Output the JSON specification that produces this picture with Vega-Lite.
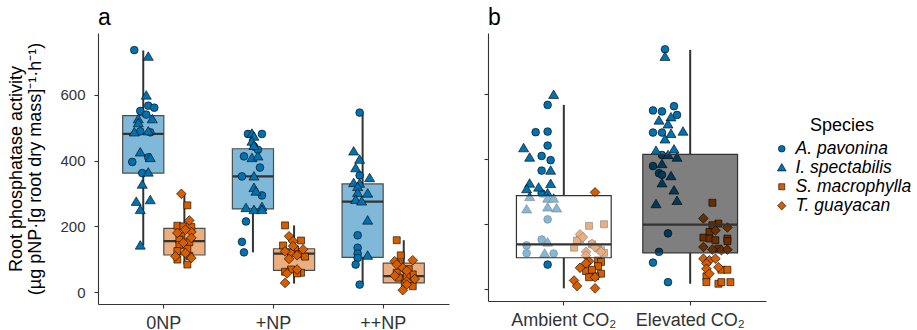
{
  "$schema": "https://vega.github.io/schema/vega-lite/v6.json",
  "padding": {"left": 7, "top": 7, "right": 5, "bottom": 5},
  "config": {
    "font": "Liberation Sans",
    "view": {"stroke": null},
    "axis": {"grid": false, "domainColor": "#333333", "tickColor": "#333333", "labelColor": "#333333", "titleColor": "#000000", "titleFontWeight": "normal", "tickSize": 4, "domainWidth": 1.1, "tickWidth": 1.1, "labelFont": "Liberation Sans", "titleFont": "Liberation Sans"},
    "title": {"font": "Liberation Sans", "fontWeight": "normal", "fontSize": 23, "anchor": "start", "frame": "group", "color": "#000000"},
    "legend": {"titleFontWeight": "normal", "titleFontSize": 18, "titleColor": "#000000", "labelFontSize": 17.5, "labelFontStyle": "italic", "labelColor": "#000000", "symbolSize": 45, "symbolStrokeColor": "#000000", "symbolStrokeWidth": 0.6, "titleAnchor": "middle", "rowPadding": 0, "labelOffset": 5}
  },
  "datasets": {
    "boxA": [
      {"N": "0NP", "type": "N-fixer", "lower": 142, "q1": 362, "median": 481, "q3": 537, "upper": 735},
      {"N": "0NP", "type": "Non-fixer", "lower": 84, "q1": 113, "median": 155, "q3": 194, "upper": 299},
      {"N": "+NP", "type": "N-fixer", "lower": 121, "q1": 253, "median": 352, "q3": 436, "upper": 484},
      {"N": "+NP", "type": "Non-fixer", "lower": 26, "q1": 66, "median": 117, "q3": 132, "upper": 203},
      {"N": "++NP", "type": "N-fixer", "lower": 23, "q1": 106, "median": 275, "q3": 329, "upper": 546},
      {"N": "++NP", "type": "Non-fixer", "lower": 6, "q1": 28, "median": 49, "q3": 88, "upper": 158}
    ],
    "boxB": [
      {"CO2": "Ambient CO₂", "lower": 3, "q1": 97, "median": 138, "q3": 288, "upper": 567},
      {"CO2": "Elevated CO₂", "lower": 17, "q1": 112, "median": 199, "q3": 415, "upper": 736}
    ],
    "ptsA": [
      {"N": "0NP", "species": "A. pavonina", "value": 736, "plant": 2},
      {"N": "0NP", "species": "A. pavonina", "value": 567, "plant": 9},
      {"N": "0NP", "species": "A. pavonina", "value": 561, "plant": 12},
      {"N": "0NP", "species": "A. pavonina", "value": 551, "plant": 5},
      {"N": "0NP", "species": "A. pavonina", "value": 540, "plant": 8},
      {"N": "0NP", "species": "A. pavonina", "value": 489, "plant": 5},
      {"N": "0NP", "species": "A. pavonina", "value": 486, "plant": 10},
      {"N": "0NP", "species": "A. pavonina", "value": 410, "plant": 9},
      {"N": "0NP", "species": "A. pavonina", "value": 396, "plant": 1},
      {"N": "0NP", "species": "A. pavonina", "value": 362, "plant": 6},
      {"N": "0NP", "species": "I. spectabilis", "value": 716, "plant": 9},
      {"N": "0NP", "species": "I. spectabilis", "value": 598, "plant": 8},
      {"N": "0NP", "species": "I. spectabilis", "value": 526, "plant": 4},
      {"N": "0NP", "species": "I. spectabilis", "value": 526, "plant": 11},
      {"N": "0NP", "species": "I. spectabilis", "value": 514, "plant": 4},
      {"N": "0NP", "species": "I. spectabilis", "value": 486, "plant": 2},
      {"N": "0NP", "species": "I. spectabilis", "value": 489, "plant": 9},
      {"N": "0NP", "species": "I. spectabilis", "value": 425, "plant": 5},
      {"N": "0NP", "species": "I. spectabilis", "value": 408, "plant": 10},
      {"N": "0NP", "species": "I. spectabilis", "value": 364, "plant": 9},
      {"N": "0NP", "species": "I. spectabilis", "value": 327, "plant": 6},
      {"N": "0NP", "species": "I. spectabilis", "value": 280, "plant": 10},
      {"N": "0NP", "species": "I. spectabilis", "value": 275, "plant": 3},
      {"N": "0NP", "species": "I. spectabilis", "value": 250, "plant": 5},
      {"N": "0NP", "species": "I. spectabilis", "value": 142, "plant": 5},
      {"N": "0NP", "species": "S. macrophylla", "value": 264, "plant": 8},
      {"N": "0NP", "species": "S. macrophylla", "value": 202, "plant": 3},
      {"N": "0NP", "species": "S. macrophylla", "value": 200, "plant": 6},
      {"N": "0NP", "species": "S. macrophylla", "value": 198, "plant": 10},
      {"N": "0NP", "species": "S. macrophylla", "value": 170, "plant": 5},
      {"N": "0NP", "species": "S. macrophylla", "value": 160, "plant": 4},
      {"N": "0NP", "species": "S. macrophylla", "value": 152, "plant": 9},
      {"N": "0NP", "species": "S. macrophylla", "value": 143, "plant": 4},
      {"N": "0NP", "species": "S. macrophylla", "value": 132, "plant": 8},
      {"N": "0NP", "species": "S. macrophylla", "value": 125, "plant": 3},
      {"N": "0NP", "species": "S. macrophylla", "value": 110, "plant": 9},
      {"N": "0NP", "species": "S. macrophylla", "value": 99, "plant": 3},
      {"N": "0NP", "species": "S. macrophylla", "value": 84, "plant": 8},
      {"N": "0NP", "species": "T. guayacan", "value": 299, "plant": 5},
      {"N": "0NP", "species": "T. guayacan", "value": 218, "plant": 9},
      {"N": "0NP", "species": "T. guayacan", "value": 183, "plant": 10},
      {"N": "0NP", "species": "T. guayacan", "value": 180, "plant": 3},
      {"N": "0NP", "species": "T. guayacan", "value": 190, "plant": 7},
      {"N": "0NP", "species": "T. guayacan", "value": 165, "plant": 10},
      {"N": "0NP", "species": "T. guayacan", "value": 119, "plant": 7},
      {"N": "0NP", "species": "T. guayacan", "value": 109, "plant": 2},
      {"N": "0NP", "species": "T. guayacan", "value": 104, "plant": 10},
      {"N": "0NP", "species": "T. guayacan", "value": 150, "plant": 6},
      {"N": "+NP", "species": "A. pavonina", "value": 481, "plant": 4},
      {"N": "+NP", "species": "A. pavonina", "value": 481, "plant": 11},
      {"N": "+NP", "species": "A. pavonina", "value": 443, "plant": 7},
      {"N": "+NP", "species": "A. pavonina", "value": 433, "plant": 9},
      {"N": "+NP", "species": "A. pavonina", "value": 413, "plant": 2},
      {"N": "+NP", "species": "A. pavonina", "value": 379, "plant": 10},
      {"N": "+NP", "species": "A. pavonina", "value": 352, "plant": 1},
      {"N": "+NP", "species": "A. pavonina", "value": 294, "plant": 11},
      {"N": "+NP", "species": "A. pavonina", "value": 215, "plant": 3},
      {"N": "+NP", "species": "A. pavonina", "value": 153, "plant": 1},
      {"N": "+NP", "species": "A. pavonina", "value": 121, "plant": 2},
      {"N": "+NP", "species": "I. spectabilis", "value": 482, "plant": 6},
      {"N": "+NP", "species": "I. spectabilis", "value": 473, "plant": 7},
      {"N": "+NP", "species": "I. spectabilis", "value": 458, "plant": 6},
      {"N": "+NP", "species": "I. spectabilis", "value": 445, "plant": 7},
      {"N": "+NP", "species": "I. spectabilis", "value": 408, "plant": 6},
      {"N": "+NP", "species": "I. spectabilis", "value": 413, "plant": 9},
      {"N": "+NP", "species": "I. spectabilis", "value": 352, "plant": 7},
      {"N": "+NP", "species": "I. spectabilis", "value": 317, "plant": 7},
      {"N": "+NP", "species": "I. spectabilis", "value": 306, "plant": 8},
      {"N": "+NP", "species": "I. spectabilis", "value": 259, "plant": 11},
      {"N": "+NP", "species": "I. spectabilis", "value": 256, "plant": 3},
      {"N": "+NP", "species": "I. spectabilis", "value": 250, "plant": 7},
      {"N": "+NP", "species": "I. spectabilis", "value": 250, "plant": 11},
      {"N": "+NP", "species": "S. macrophylla", "value": 203, "plant": 2},
      {"N": "+NP", "species": "S. macrophylla", "value": 157, "plant": 10},
      {"N": "+NP", "species": "S. macrophylla", "value": 142, "plant": 1},
      {"N": "+NP", "species": "S. macrophylla", "value": 130, "plant": 7},
      {"N": "+NP", "species": "S. macrophylla", "value": 120, "plant": 5},
      {"N": "+NP", "species": "S. macrophylla", "value": 115, "plant": 9},
      {"N": "+NP", "species": "S. macrophylla", "value": 108, "plant": 12},
      {"N": "+NP", "species": "S. macrophylla", "value": 69, "plant": 5},
      {"N": "+NP", "species": "S. macrophylla", "value": 59, "plant": 10},
      {"N": "+NP", "species": "S. macrophylla", "value": 57, "plant": 8},
      {"N": "+NP", "species": "S. macrophylla", "value": 62, "plant": 2},
      {"N": "+NP", "species": "T. guayacan", "value": 170, "plant": 4},
      {"N": "+NP", "species": "T. guayacan", "value": 155, "plant": 6},
      {"N": "+NP", "species": "T. guayacan", "value": 140, "plant": 6},
      {"N": "+NP", "species": "T. guayacan", "value": 130, "plant": 11},
      {"N": "+NP", "species": "T. guayacan", "value": 124, "plant": 2},
      {"N": "+NP", "species": "T. guayacan", "value": 112, "plant": 8},
      {"N": "+NP", "species": "T. guayacan", "value": 101, "plant": 4},
      {"N": "+NP", "species": "T. guayacan", "value": 69, "plant": 8},
      {"N": "+NP", "species": "T. guayacan", "value": 57, "plant": 3},
      {"N": "+NP", "species": "T. guayacan", "value": 28, "plant": 2},
      {"N": "++NP", "species": "A. pavonina", "value": 546, "plant": 5},
      {"N": "++NP", "species": "A. pavonina", "value": 355, "plant": 5},
      {"N": "++NP", "species": "A. pavonina", "value": 173, "plant": 4},
      {"N": "++NP", "species": "A. pavonina", "value": 135, "plant": 4},
      {"N": "++NP", "species": "A. pavonina", "value": 117, "plant": 4},
      {"N": "++NP", "species": "A. pavonina", "value": 104, "plant": 4},
      {"N": "++NP", "species": "A. pavonina", "value": 84, "plant": 3},
      {"N": "++NP", "species": "A. pavonina", "value": 23, "plant": 5},
      {"N": "++NP", "species": "I. spectabilis", "value": 428, "plant": 2},
      {"N": "++NP", "species": "I. spectabilis", "value": 403, "plant": 5},
      {"N": "++NP", "species": "I. spectabilis", "value": 377, "plant": 3},
      {"N": "++NP", "species": "I. spectabilis", "value": 347, "plant": 10},
      {"N": "++NP", "species": "I. spectabilis", "value": 332, "plant": 2},
      {"N": "++NP", "species": "I. spectabilis", "value": 330, "plant": 5},
      {"N": "++NP", "species": "I. spectabilis", "value": 320, "plant": 4},
      {"N": "++NP", "species": "I. spectabilis", "value": 302, "plant": 4},
      {"N": "++NP", "species": "I. spectabilis", "value": 300, "plant": 9},
      {"N": "++NP", "species": "I. spectabilis", "value": 281, "plant": 3},
      {"N": "++NP", "species": "I. spectabilis", "value": 276, "plant": 6},
      {"N": "++NP", "species": "I. spectabilis", "value": 218, "plant": 9},
      {"N": "++NP", "species": "I. spectabilis", "value": 111, "plant": 9},
      {"N": "++NP", "species": "S. macrophylla", "value": 158, "plant": 3},
      {"N": "++NP", "species": "S. macrophylla", "value": 112, "plant": 5},
      {"N": "++NP", "species": "S. macrophylla", "value": 88, "plant": 4},
      {"N": "++NP", "species": "S. macrophylla", "value": 70, "plant": 9},
      {"N": "++NP", "species": "S. macrophylla", "value": 59, "plant": 3},
      {"N": "++NP", "species": "S. macrophylla", "value": 54, "plant": 11},
      {"N": "++NP", "species": "S. macrophylla", "value": 48, "plant": 8},
      {"N": "++NP", "species": "S. macrophylla", "value": 44, "plant": 4},
      {"N": "++NP", "species": "S. macrophylla", "value": 26, "plant": 7},
      {"N": "++NP", "species": "S. macrophylla", "value": 18, "plant": 11},
      {"N": "++NP", "species": "T. guayacan", "value": 97, "plant": 11},
      {"N": "++NP", "species": "T. guayacan", "value": 94, "plant": 2},
      {"N": "++NP", "species": "T. guayacan", "value": 84, "plant": 3},
      {"N": "++NP", "species": "T. guayacan", "value": 74, "plant": 6},
      {"N": "++NP", "species": "T. guayacan", "value": 65, "plant": 8},
      {"N": "++NP", "species": "T. guayacan", "value": 50, "plant": 2},
      {"N": "++NP", "species": "T. guayacan", "value": 33, "plant": 8},
      {"N": "++NP", "species": "T. guayacan", "value": 23, "plant": 8},
      {"N": "++NP", "species": "T. guayacan", "value": 6, "plant": 6},
      {"N": "++NP", "species": "T. guayacan", "value": 40, "plant": 12}
    ],
    "ptsB": [
      {"CO2": "Ambient CO₂", "species": "A. pavonina", "value": 567, "plant": 9},
      {"CO2": "Ambient CO₂", "species": "A. pavonina", "value": 485, "plant": 9},
      {"CO2": "Ambient CO₂", "species": "A. pavonina", "value": 483, "plant": 5},
      {"CO2": "Ambient CO₂", "species": "A. pavonina", "value": 442, "plant": 9},
      {"CO2": "Ambient CO₂", "species": "A. pavonina", "value": 410, "plant": 7},
      {"CO2": "Ambient CO₂", "species": "A. pavonina", "value": 397, "plant": 10},
      {"CO2": "Ambient CO₂", "species": "A. pavonina", "value": 365, "plant": 7},
      {"CO2": "Ambient CO₂", "species": "A. pavonina", "value": 295, "plant": 7},
      {"CO2": "Ambient CO₂", "species": "A. pavonina", "value": 215, "plant": 9},
      {"CO2": "Ambient CO₂", "species": "A. pavonina", "value": 153, "plant": 7},
      {"CO2": "Ambient CO₂", "species": "A. pavonina", "value": 135, "plant": 2},
      {"CO2": "Ambient CO₂", "species": "A. pavonina", "value": 111, "plant": 2},
      {"CO2": "Ambient CO₂", "species": "A. pavonina", "value": 110, "plant": 11},
      {"CO2": "Ambient CO₂", "species": "A. pavonina", "value": 76, "plant": 9},
      {"CO2": "Ambient CO₂", "species": "I. spectabilis", "value": 598, "plant": 11},
      {"CO2": "Ambient CO₂", "species": "I. spectabilis", "value": 434, "plant": 1},
      {"CO2": "Ambient CO₂", "species": "I. spectabilis", "value": 405, "plant": 3},
      {"CO2": "Ambient CO₂", "species": "I. spectabilis", "value": 365, "plant": 10},
      {"CO2": "Ambient CO₂", "species": "I. spectabilis", "value": 325, "plant": 3},
      {"CO2": "Ambient CO₂", "species": "I. spectabilis", "value": 308, "plant": 2},
      {"CO2": "Ambient CO₂", "species": "I. spectabilis", "value": 313, "plant": 6},
      {"CO2": "Ambient CO₂", "species": "I. spectabilis", "value": 324, "plant": 10},
      {"CO2": "Ambient CO₂", "species": "I. spectabilis", "value": 295, "plant": 9},
      {"CO2": "Ambient CO₂", "species": "I. spectabilis", "value": 284, "plant": 3},
      {"CO2": "Ambient CO₂", "species": "I. spectabilis", "value": 279, "plant": 9},
      {"CO2": "Ambient CO₂", "species": "I. spectabilis", "value": 279, "plant": 11},
      {"CO2": "Ambient CO₂", "species": "I. spectabilis", "value": 246, "plant": 2},
      {"CO2": "Ambient CO₂", "species": "I. spectabilis", "value": 252, "plant": 9},
      {"CO2": "Ambient CO₂", "species": "I. spectabilis", "value": 249, "plant": 12},
      {"CO2": "Ambient CO₂", "species": "I. spectabilis", "value": 144, "plant": 9},
      {"CO2": "Ambient CO₂", "species": "I. spectabilis", "value": 110, "plant": 8},
      {"CO2": "Ambient CO₂", "species": "S. macrophylla", "value": 200, "plant": 12},
      {"CO2": "Ambient CO₂", "species": "S. macrophylla", "value": 195, "plant": 7},
      {"CO2": "Ambient CO₂", "species": "S. macrophylla", "value": 154, "plant": 4},
      {"CO2": "Ambient CO₂", "species": "S. macrophylla", "value": 150, "plant": 3},
      {"CO2": "Ambient CO₂", "species": "S. macrophylla", "value": 138, "plant": 8},
      {"CO2": "Ambient CO₂", "species": "S. macrophylla", "value": 128, "plant": 2},
      {"CO2": "Ambient CO₂", "species": "S. macrophylla", "value": 126, "plant": 10},
      {"CO2": "Ambient CO₂", "species": "S. macrophylla", "value": 120, "plant": 11},
      {"CO2": "Ambient CO₂", "species": "S. macrophylla", "value": 112, "plant": 12},
      {"CO2": "Ambient CO₂", "species": "S. macrophylla", "value": 89, "plant": 10},
      {"CO2": "Ambient CO₂", "species": "S. macrophylla", "value": 84, "plant": 11},
      {"CO2": "Ambient CO₂", "species": "S. macrophylla", "value": 71, "plant": 10},
      {"CO2": "Ambient CO₂", "species": "S. macrophylla", "value": 56, "plant": 6},
      {"CO2": "Ambient CO₂", "species": "S. macrophylla", "value": 48, "plant": 11},
      {"CO2": "Ambient CO₂", "species": "S. macrophylla", "value": 40, "plant": 9},
      {"CO2": "Ambient CO₂", "species": "S. macrophylla", "value": 37, "plant": 7},
      {"CO2": "Ambient CO₂", "species": "S. macrophylla", "value": 60, "plant": 8},
      {"CO2": "Ambient CO₂", "species": "T. guayacan", "value": 298, "plant": 9},
      {"CO2": "Ambient CO₂", "species": "T. guayacan", "value": 169, "plant": 4},
      {"CO2": "Ambient CO₂", "species": "T. guayacan", "value": 160, "plant": 5},
      {"CO2": "Ambient CO₂", "species": "T. guayacan", "value": 140, "plant": 8},
      {"CO2": "Ambient CO₂", "species": "T. guayacan", "value": 130, "plant": 9},
      {"CO2": "Ambient CO₂", "species": "T. guayacan", "value": 115, "plant": 6},
      {"CO2": "Ambient CO₂", "species": "T. guayacan", "value": 115, "plant": 11},
      {"CO2": "Ambient CO₂", "species": "T. guayacan", "value": 104, "plant": 6},
      {"CO2": "Ambient CO₂", "species": "T. guayacan", "value": 86, "plant": 7},
      {"CO2": "Ambient CO₂", "species": "T. guayacan", "value": 80, "plant": 6},
      {"CO2": "Ambient CO₂", "species": "T. guayacan", "value": 66, "plant": 4},
      {"CO2": "Ambient CO₂", "species": "T. guayacan", "value": 27, "plant": 2},
      {"CO2": "Ambient CO₂", "species": "T. guayacan", "value": 10, "plant": 3},
      {"CO2": "Ambient CO₂", "species": "T. guayacan", "value": 3, "plant": 9},
      {"CO2": "Ambient CO₂", "species": "T. guayacan", "value": 37, "plant": 9},
      {"CO2": "Elevated CO₂", "species": "A. pavonina", "value": 738, "plant": 6},
      {"CO2": "Elevated CO₂", "species": "A. pavonina", "value": 563, "plant": 9},
      {"CO2": "Elevated CO₂", "species": "A. pavonina", "value": 550, "plant": 2},
      {"CO2": "Elevated CO₂", "species": "A. pavonina", "value": 547, "plant": 5},
      {"CO2": "Elevated CO₂", "species": "A. pavonina", "value": 536, "plant": 10},
      {"CO2": "Elevated CO₂", "species": "A. pavonina", "value": 482, "plant": 2},
      {"CO2": "Elevated CO₂", "species": "A. pavonina", "value": 482, "plant": 5},
      {"CO2": "Elevated CO₂", "species": "A. pavonina", "value": 413, "plant": 5},
      {"CO2": "Elevated CO₂", "species": "A. pavonina", "value": 379, "plant": 2},
      {"CO2": "Elevated CO₂", "species": "A. pavonina", "value": 357, "plant": 4},
      {"CO2": "Elevated CO₂", "species": "A. pavonina", "value": 352, "plant": 5},
      {"CO2": "Elevated CO₂", "species": "A. pavonina", "value": 172, "plant": 7},
      {"CO2": "Elevated CO₂", "species": "A. pavonina", "value": 115, "plant": 4},
      {"CO2": "Elevated CO₂", "species": "A. pavonina", "value": 82, "plant": 2},
      {"CO2": "Elevated CO₂", "species": "A. pavonina", "value": 22, "plant": 7},
      {"CO2": "Elevated CO₂", "species": "I. spectabilis", "value": 715, "plant": 6},
      {"CO2": "Elevated CO₂", "species": "I. spectabilis", "value": 529, "plant": 8},
      {"CO2": "Elevated CO₂", "species": "I. spectabilis", "value": 519, "plant": 4},
      {"CO2": "Elevated CO₂", "species": "I. spectabilis", "value": 507, "plant": 7},
      {"CO2": "Elevated CO₂", "species": "I. spectabilis", "value": 478, "plant": 8},
      {"CO2": "Elevated CO₂", "species": "I. spectabilis", "value": 485, "plant": 12},
      {"CO2": "Elevated CO₂", "species": "I. spectabilis", "value": 461, "plant": 6},
      {"CO2": "Elevated CO₂", "species": "I. spectabilis", "value": 426, "plant": 3},
      {"CO2": "Elevated CO₂", "species": "I. spectabilis", "value": 430, "plant": 9},
      {"CO2": "Elevated CO₂", "species": "I. spectabilis", "value": 413, "plant": 7},
      {"CO2": "Elevated CO₂", "species": "I. spectabilis", "value": 405, "plant": 10},
      {"CO2": "Elevated CO₂", "species": "I. spectabilis", "value": 385, "plant": 5},
      {"CO2": "Elevated CO₂", "species": "I. spectabilis", "value": 348, "plant": 8},
      {"CO2": "Elevated CO₂", "species": "I. spectabilis", "value": 326, "plant": 5},
      {"CO2": "Elevated CO₂", "species": "I. spectabilis", "value": 304, "plant": 9},
      {"CO2": "Elevated CO₂", "species": "I. spectabilis", "value": 272, "plant": 10},
      {"CO2": "Elevated CO₂", "species": "I. spectabilis", "value": 262, "plant": 3},
      {"CO2": "Elevated CO₂", "species": "S. macrophylla", "value": 266, "plant": 6},
      {"CO2": "Elevated CO₂", "species": "S. macrophylla", "value": 202, "plant": 8},
      {"CO2": "Elevated CO₂", "species": "S. macrophylla", "value": 197, "plant": 6},
      {"CO2": "Elevated CO₂", "species": "S. macrophylla", "value": 176, "plant": 5},
      {"CO2": "Elevated CO₂", "species": "S. macrophylla", "value": 159, "plant": 3},
      {"CO2": "Elevated CO₂", "species": "S. macrophylla", "value": 156, "plant": 5},
      {"CO2": "Elevated CO₂", "species": "S. macrophylla", "value": 151, "plant": 7},
      {"CO2": "Elevated CO₂", "species": "S. macrophylla", "value": 156, "plant": 11},
      {"CO2": "Elevated CO₂", "species": "S. macrophylla", "value": 148, "plant": 11},
      {"CO2": "Elevated CO₂", "species": "S. macrophylla", "value": 125, "plant": 8},
      {"CO2": "Elevated CO₂", "species": "S. macrophylla", "value": 60, "plant": 9},
      {"CO2": "Elevated CO₂", "species": "S. macrophylla", "value": 60, "plant": 11},
      {"CO2": "Elevated CO₂", "species": "S. macrophylla", "value": 40, "plant": 4},
      {"CO2": "Elevated CO₂", "species": "S. macrophylla", "value": 22, "plant": 4},
      {"CO2": "Elevated CO₂", "species": "S. macrophylla", "value": 17, "plant": 8},
      {"CO2": "Elevated CO₂", "species": "S. macrophylla", "value": 22, "plant": 9},
      {"CO2": "Elevated CO₂", "species": "S. macrophylla", "value": 22, "plant": 12},
      {"CO2": "Elevated CO₂", "species": "T. guayacan", "value": 218, "plant": 3},
      {"CO2": "Elevated CO₂", "species": "T. guayacan", "value": 190, "plant": 11},
      {"CO2": "Elevated CO₂", "species": "T. guayacan", "value": 181, "plant": 7},
      {"CO2": "Elevated CO₂", "species": "T. guayacan", "value": 130, "plant": 3},
      {"CO2": "Elevated CO₂", "species": "T. guayacan", "value": 122, "plant": 6},
      {"CO2": "Elevated CO₂", "species": "T. guayacan", "value": 120, "plant": 9},
      {"CO2": "Elevated CO₂", "species": "T. guayacan", "value": 122, "plant": 11},
      {"CO2": "Elevated CO₂", "species": "T. guayacan", "value": 94, "plant": 3},
      {"CO2": "Elevated CO₂", "species": "T. guayacan", "value": 89, "plant": 5},
      {"CO2": "Elevated CO₂", "species": "T. guayacan", "value": 94, "plant": 7},
      {"CO2": "Elevated CO₂", "species": "T. guayacan", "value": 79, "plant": 4},
      {"CO2": "Elevated CO₂", "species": "T. guayacan", "value": 68, "plant": 8},
      {"CO2": "Elevated CO₂", "species": "T. guayacan", "value": 63, "plant": 4},
      {"CO2": "Elevated CO₂", "species": "T. guayacan", "value": 48, "plant": 5}
    ]
  },
  "resolve": {"scale": {"xOffset": "independent", "fill": "independent"}},
  "spacing": 34,
  "hconcat": [
    {
      "width": 351,
      "height": 271,
      "title": {"text": "a", "offset": 3},
      "resolve": {"scale": {"xOffset": "independent"}},
      "encoding": {
        "x": {"field": "N", "type": "nominal", "sort": ["0NP", "+NP", "++NP"], "scale": {"paddingInner": 0, "paddingOuter": 0.1}, "axis": {"title": null, "labelAngle": 0, "labelFontSize": 18, "labelPadding": 6}}
      },
      "layer": [
        {
          "data": {"name": "boxA"},
          "encoding": {"xOffset": {"field": "type", "type": "nominal", "scale": {"domain": ["N-fixer", "Non-fixer"], "paddingInner": 0, "paddingOuter": 0.3333}}},
          "layer": [
            {"mark": {"type": "rule", "color": "#333333", "strokeWidth": 2}, "encoding": {"y": {"field": "lower", "type": "quantitative", "scale": {"domain": [-36, 788], "nice": false, "zero": false}, "axis": {"title": ["Root phosphatase activity", "(µg pNP·[g root dry mass]⁻¹·h⁻¹)"], "values": [0, 200, 400, 600], "labelFontSize": 15, "labelPadding": 9, "titleFontSize": 18, "titlePadding": 15, "titleLineHeight": 19}}, "y2": {"field": "q1"}}},
            {"mark": {"type": "rule", "color": "#333333", "strokeWidth": 2}, "encoding": {"y": {"field": "q3", "type": "quantitative"}, "y2": {"field": "upper"}}},
            {"mark": {"type": "bar", "fillOpacity": 0.5, "stroke": "#4d4d4d", "strokeWidth": 1.2}, "encoding": {"y": {"field": "q1", "type": "quantitative"}, "y2": {"field": "q3"}, "fill": {"field": "type", "type": "nominal", "scale": {"domain": ["N-fixer", "Non-fixer"], "range": ["#0072B2", "#D55E00"]}, "legend": null}}},
            {"mark": {"type": "bar", "fillOpacity": 0, "stroke": "#333333", "strokeWidth": 2.2}, "encoding": {"y": {"field": "median", "type": "quantitative"}, "y2": {"field": "median"}}}
          ]
        },
        {
          "data": {"name": "ptsA"},
          "transform": [{"filter": {"field": "species", "oneOf": ["A. pavonina", "I. spectabilis"]}}],
          "mark": {"type": "point", "filled": true, "opacity": 1, "stroke": "#000000", "strokeWidth": 0.6, "size": 60},
          "encoding": {
            "xOffset": {"field": "plant", "type": "quantitative", "scale": {"domain": [1, 12], "range": [23.3, 45.3]}},
            "y": {"field": "value", "type": "quantitative"},
            "color": {"field": "species", "type": "nominal", "title": "Species", "scale": {"domain": ["A. pavonina", "I. spectabilis", "S. macrophylla", "T. guayacan"], "range": ["#0072B2", "#0072B2", "#D55E00", "#D55E00"]}, "legend": {"orient": "none", "legendX": 675, "legendY": 84}},
            "shape": {"field": "species", "type": "nominal", "title": "Species", "scale": {"domain": ["A. pavonina", "I. spectabilis", "S. macrophylla", "T. guayacan"], "range": ["circle", "M0,-1.25L1.3,0.95L-1.3,0.95Z", "M-0.9,-0.9H0.9V0.9H-0.9Z", "M0,-1.25L1.25,0L0,1.25L-1.25,0Z"]}, "legend": {"orient": "none", "legendX": 675, "legendY": 84}}
          }
        },
        {
          "data": {"name": "ptsA"},
          "transform": [{"filter": {"field": "species", "oneOf": ["S. macrophylla", "T. guayacan"]}}],
          "mark": {"type": "point", "filled": true, "opacity": 1, "stroke": "#000000", "strokeWidth": 0.6, "size": 60},
          "encoding": {
            "xOffset": {"field": "plant", "type": "quantitative", "scale": {"domain": [1, 12], "range": [64.4, 86.4]}},
            "y": {"field": "value", "type": "quantitative"},
            "color": {"field": "species", "type": "nominal", "title": "Species"},
            "shape": {"field": "species", "type": "nominal", "title": "Species"}
          }
        }
      ]
    },
    {
      "width": 278,
      "height": 268,
      "title": {"text": "b", "offset": 3},
      "resolve": {"scale": {"xOffset": "independent"}},
      "encoding": {
        "x": {"field": "CO2", "type": "nominal", "sort": ["Ambient CO₂", "Elevated CO₂"], "scale": {"paddingInner": 0, "paddingOuter": 0.1}, "axis": {"title": null, "labelAngle": 0, "labelFontSize": 18, "labelPadding": 6}}
      },
      "layer": [
        {
          "data": {"name": "ptsB"},
          "transform": [{"filter": {"field": "species", "oneOf": ["A. pavonina", "I. spectabilis"]}}],
          "mark": {"type": "point", "filled": true, "opacity": 1, "stroke": "#000000", "strokeWidth": 0.6, "size": 60},
          "encoding": {
            "xOffset": {"field": "plant", "type": "quantitative", "scale": {"domain": [1, 12], "range": [23, 56]}},
            "y": {"field": "value", "type": "quantitative", "scale": {"domain": [-36, 788], "nice": false, "zero": false}, "axis": {"title": null, "labels": false, "values": [0, 200, 400, 600]}},
            "color": {"field": "species", "type": "nominal", "title": "Species"},
            "shape": {"field": "species", "type": "nominal", "title": "Species"}
          }
        },
        {
          "data": {"name": "ptsB"},
          "transform": [{"filter": {"field": "species", "oneOf": ["S. macrophylla", "T. guayacan"]}}],
          "mark": {"type": "point", "filled": true, "opacity": 1, "stroke": "#000000", "strokeWidth": 0.6, "size": 60},
          "encoding": {
            "xOffset": {"field": "plant", "type": "quantitative", "scale": {"domain": [1, 12], "range": [70.4, 103.4]}},
            "y": {"field": "value", "type": "quantitative"},
            "color": {"field": "species", "type": "nominal", "title": "Species"},
            "shape": {"field": "species", "type": "nominal", "title": "Species"}
          }
        },
        {
          "data": {"name": "boxB"},
          "layer": [
            {"mark": {"type": "rule", "color": "#333333", "strokeWidth": 2}, "encoding": {"y": {"field": "lower", "type": "quantitative"}, "y2": {"field": "q1"}}},
            {"mark": {"type": "rule", "color": "#333333", "strokeWidth": 2}, "encoding": {"y": {"field": "q3", "type": "quantitative"}, "y2": {"field": "upper"}}},
            {"mark": {"type": "bar", "width": {"band": 0.75}, "fillOpacity": 0.5, "stroke": "#333333", "strokeWidth": 1.2}, "encoding": {"y": {"field": "q1", "type": "quantitative"}, "y2": {"field": "q3"}, "fill": {"field": "CO2", "type": "nominal", "scale": {"domain": ["Ambient CO₂", "Elevated CO₂"], "range": ["#ffffff", "#000000"]}, "legend": null}}},
            {"mark": {"type": "bar", "width": {"band": 0.75}, "fillOpacity": 0, "stroke": "#333333", "strokeWidth": 2.2}, "encoding": {"y": {"field": "median", "type": "quantitative"}, "y2": {"field": "median"}}}
          ]
        }
      ]
    }
  ]
}
